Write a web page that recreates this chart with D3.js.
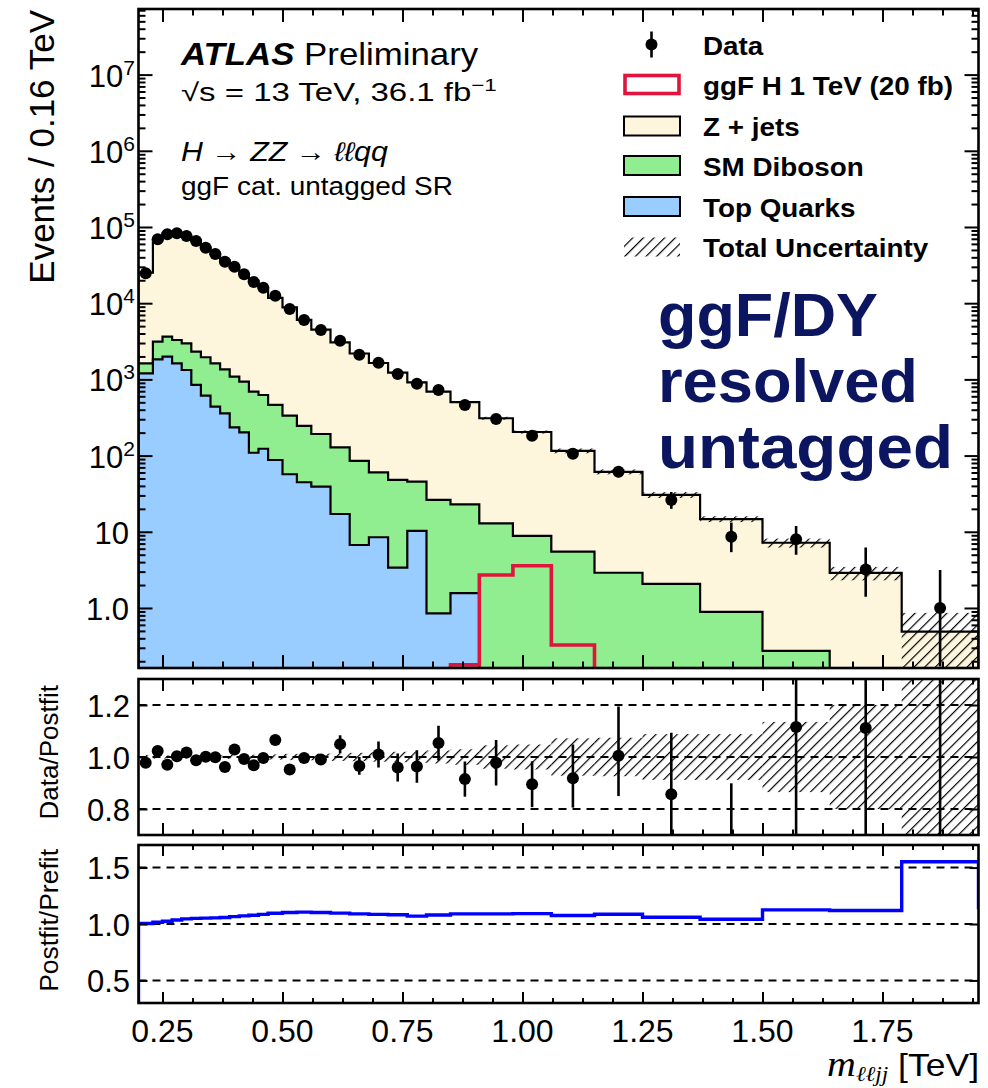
<!DOCTYPE html>
<html>
<head>
<meta charset="utf-8">
<script src="https://cdn.jsdelivr.net/npm/d3@7"></script>
<style>
  body { margin: 0; background: #fff; }
  svg { display: block; }
  text { font-family: "Liberation Sans", Arial, Helvetica, sans-serif; }
</style>
</head>
<body>
<svg id="chart" width="988" height="1088"></svg>
<script>
// ---- m_lljj histogram contents (ggF untagged resolved SR) ----
const binEdges = [0.20, 0.23, 0.25, 0.27, 0.29, 0.31, 0.33, 0.35, 0.37, 0.39, 0.41, 0.43, 0.45, 0.47,
                  0.50, 0.53, 0.56, 0.60, 0.64, 0.68, 0.72, 0.76, 0.80, 0.85, 0.91, 0.98, 1.06,
                  1.15, 1.25, 1.37, 1.50, 1.64, 1.79, 1.95];

const zJets = [23600, 64300, 79000, 79100, 71900, 64000, 51500, 42600, 35100, 28200, 23200, 18900,
               15400, 11300, 8480, 5800, 4300, 2940, 2100, 1580, 1180, 867, 663, 481, 296, 195,
               110, 58.3, 28.4, 13.8, 6.9, 2.78, 0.45];

const smDiboson = [425, 1289, 1648, 1661, 1649, 1467, 1340, 1189, 998, 850, 731, 581, 501, 374,
                   277, 200, 153, 111, 78.3, 51.9, 44.5, 35.1, 25.3, 21.3, 12.9, 8.81, 5.48, 2.90,
                   2.07, 0.887, 0.273, 0.10, 0.04];

const topQuarks = [1202, 1836, 1986, 1627, 1328, 845, 611, 438, 359, 235, 202, 109, 123, 87.5,
                   56.9, 44.7, 39.1, 17.1, 6.71, 8.47, 3.38, 10.3, 0.85, 1.57, 0, 0, 0, 0, 0, 0,
                   0, 0, 0];

const ggfSignal = [0, 0, 0, 0, 0, 0, 0, 0, 0, 0, 0, 0, 0, 0, 0, 0, 0, 0, 0, 0, 0, 0, 0,
                   0.179, 2.71, 3.59, 0.327, 0, 0, 0, 0, 0, 0];

const dataCounts = [24660, 69000, 80200, 82650, 76200, 65500, 53500, 44200, 35050, 30140, 23950,
                    18970, 15960, 12530, 8390, 6020, 4450, 3220, 2110, 1656, 1178, 879, 726, 461,
                    302, 182.5, 106, 61.5, 26.1, 8.6, 8.0, 3.2, 1.0];

const dataErrUp = [197, 345, 401, 413, 381, 328, 268, 265, 245, 241, 216, 190, 176, 150, 126, 108,
                   89, 104, 74, 82, 66, 57, 46, 34, 27, 18, 15, 11.6, 7.2, 4.6, 3.9, 3.0, 2.15];
const dataErrDown = [197, 345, 401, 413, 381, 328, 268, 265, 245, 241, 216, 190, 176, 150, 126, 108,
                     89, 104, 74, 82, 66, 57, 46, 34, 27, 18, 13, 9.5, 6.1, 3.2, 3.0, 1.8, 0.83];

// relative total (stat+syst) uncertainty on the background prediction
const totalUncRel = [0.008, 0.006, 0.006, 0.006, 0.006, 0.006, 0.006, 0.007, 0.007, 0.008, 0.008,
                     0.009, 0.010, 0.010, 0.012, 0.012, 0.013, 0.015, 0.016, 0.018, 0.020, 0.022,
                     0.025, 0.030, 0.045, 0.048, 0.072, 0.074, 0.088, 0.088, 0.135, 0.20, 0.76];

// postfit / prefit background ratio
const postfitOverPrefit = [1.005, 1.015, 1.025, 1.035, 1.045, 1.05, 1.052, 1.054, 1.058, 1.065,
                           1.072, 1.078, 1.085, 1.095, 1.102, 1.105, 1.102, 1.096, 1.09, 1.085,
                           1.082, 1.07, 1.08, 1.09, 1.09, 1.092, 1.075, 1.087, 1.06, 1.042, 1.125,
                           1.119, 1.552];
const postfitOverflow = 1.13;

// axis ticks and labels
const xMajorTicks = [0.25, 0.50, 0.75, 1.00, 1.25, 1.50, 1.75];
const xTickLabels = ["0.25", "0.50", "0.75", "1.00", "1.25", "1.50", "1.75"];
const yMainPowers = [0, 1, 2, 3, 4, 5, 6, 7];
const ratioTicks = [0.8, 1.0, 1.2];
const ratioTickLabels = ["0.8", "1.0", "1.2"];
const postfitTicks = [0.5, 1.0, 1.5];
const postfitTickLabels = ["0.5", "1.0", "1.5"];

const legendLabels = ["Data", "ggF H 1 TeV (20 fb)", "Z + jets", "SM Diboson", "Top Quarks", "Total Uncertainty"];

// ---- layout ----
const X0 = 138.5, X1 = 978.5;
const MAIN = { top: 9, bottom: 668 };
const RAT = { top: 679, bottom: 835 };
const PF = { top: 845, bottom: 1003 };
const MARKER_R = 6;

const COL = {
  zjets: "#fef6dc",
  diboson: "#90ee90",
  top: "#99ccff",
  signal: "#e0143c",
  postfit: "#0000ff",
  navy: "#0b1560"
};

const svg = d3.select("#chart");
const defs = svg.append("defs");

const hatch = defs.append("pattern")
  .attr("id", "hatch")
  .attr("patternUnits", "userSpaceOnUse")
  .attr("width", 7.5).attr("height", 7.5)
  .attr("patternTransform", "rotate(45)");
hatch.append("line")
  .attr("x1", 0).attr("y1", -1).attr("x2", 0).attr("y2", 8.5)
  .attr("stroke", "#000").attr("stroke-width", 2.4);

function addClip(id, p) {
  defs.append("clipPath").attr("id", id).append("rect")
    .attr("x", X0).attr("y", p.top).attr("width", X1 - X0).attr("height", p.bottom - p.top);
}
addClip("clipMain", MAIN);
addClip("clipRat", RAT);
addClip("clipPf", PF);

// ---- scales ----
const x = d3.scaleLinear().domain([0.2, 1.95]).range([X0, X1]);
const yMain = d3.scaleLog().domain([0.163, 7.26e7]).range([MAIN.bottom, MAIN.top]).clamp(true);
const yRat = d3.scaleLinear().domain([0.7, 1.3]).range([RAT.bottom, RAT.top]);
const yPf = d3.scaleLinear().domain([0.3, 1.7]).range([PF.bottom, PF.top]);
const yv = v => yMain(Math.max(v, 1e-3));

const nBins = binEdges.length - 1;
const centers = d3.range(nBins).map(i => (binEdges[i] + binEdges[i + 1]) / 2);

// stacked background
const rows = d3.range(nBins).map(i => ({ top: topQuarks[i], diboson: smDiboson[i], zjets: zJets[i] }));
const stacked = d3.stack().keys(["top", "diboson", "zjets"])(rows);
const cumTop = stacked[0].map(d => d[1]);
const cumDiboson = stacked[1].map(d => d[1]);
const totalBkg = stacked[2].map(d => d[1]);

// step outline through bin edges, dropping to the floor at both ends
function stepPath(vals, yFn, floorY, i0 = 0, i1 = vals.length - 1) {
  let d = `M${x(binEdges[i0])},${floorY}`;
  for (let i = i0; i <= i1; i++) {
    const yy = yFn(vals[i]);
    d += `L${x(binEdges[i])},${yy}L${x(binEdges[i + 1])},${yy}`;
  }
  d += `L${x(binEdges[i1 + 1])},${floorY}`;
  return d;
}

// ---- main panel ----
const gMain = svg.append("g").attr("clip-path", "url(#clipMain)");
[[totalBkg, COL.zjets], [cumDiboson, COL.diboson], [cumTop, COL.top]].forEach(([vals, col]) => {
  gMain.append("path").attr("d", stepPath(vals, yv, MAIN.bottom) + "Z")
    .attr("fill", col).attr("stroke", "none");
  gMain.append("path").attr("d", stepPath(vals, yv, MAIN.bottom))
    .attr("fill", "none").attr("stroke", "#000").attr("stroke-width", 2.2);
});

// uncertainty band
gMain.selectAll("rect.band").data(d3.range(nBins)).join("rect")
  .attr("class", "band")
  .attr("x", i => x(binEdges[i]))
  .attr("width", i => x(binEdges[i + 1]) - x(binEdges[i]))
  .attr("y", i => yv(totalBkg[i] * (1 + totalUncRel[i])))
  .attr("height", i => yv(totalBkg[i] * (1 - totalUncRel[i])) - yv(totalBkg[i] * (1 + totalUncRel[i])))
  .attr("fill", "url(#hatch)");

// signal
{
  const nz = d3.range(nBins).filter(i => ggfSignal[i] > 0);
  gMain.append("path")
    .attr("d", stepPath(ggfSignal, yv, MAIN.bottom + 2, nz[0], nz[nz.length - 1]))
    .attr("fill", "none").attr("stroke", COL.signal).attr("stroke-width", 3.6)
    .attr("stroke-linejoin", "miter");
}

// data
gMain.selectAll("line.err").data(d3.range(nBins)).join("line")
  .attr("class", "err")
  .attr("x1", i => x(centers[i])).attr("x2", i => x(centers[i]))
  .attr("y1", i => yv(dataCounts[i] + dataErrUp[i]))
  .attr("y2", i => yv(dataCounts[i] - dataErrDown[i]))
  .attr("stroke", "#000").attr("stroke-width", 2.6);
gMain.selectAll("circle.pt").data(d3.range(nBins)).join("circle")
  .attr("class", "pt")
  .attr("cx", i => x(centers[i])).attr("cy", i => yv(dataCounts[i]))
  .attr("r", MARKER_R).attr("fill", "#000");

// ---- ratio panel: data / postfit ----
const gRat = svg.append("g").attr("clip-path", "url(#clipRat)");
ratioTicks.forEach(v => {
  gRat.append("line").attr("x1", X0).attr("x2", X1).attr("y1", yRat(v)).attr("y2", yRat(v))
    .attr("stroke", "#000").attr("stroke-width", 2).attr("stroke-dasharray", "8,6");
});
gRat.selectAll("rect.band").data(d3.range(nBins)).join("rect")
  .attr("class", "band")
  .attr("x", i => x(binEdges[i]))
  .attr("width", i => x(binEdges[i + 1]) - x(binEdges[i]))
  .attr("y", i => yRat(1 + totalUncRel[i]))
  .attr("height", i => yRat(1 - totalUncRel[i]) - yRat(1 + totalUncRel[i]))
  .attr("fill", "url(#hatch)");
gRat.selectAll("line.err").data(d3.range(nBins)).join("line")
  .attr("class", "err")
  .attr("x1", i => x(centers[i])).attr("x2", i => x(centers[i]))
  .attr("y1", i => yRat((dataCounts[i] + dataErrUp[i]) / totalBkg[i]))
  .attr("y2", i => yRat((dataCounts[i] - dataErrDown[i]) / totalBkg[i]))
  .attr("stroke", "#000").attr("stroke-width", 2.6);
gRat.selectAll("circle.pt").data(d3.range(nBins)).join("circle")
  .attr("class", "pt")
  .attr("cx", i => x(centers[i])).attr("cy", i => yRat(dataCounts[i] / totalBkg[i]))
  .attr("r", MARKER_R).attr("fill", "#000");

// ---- postfit / prefit panel ----
const gPf = svg.append("g").attr("clip-path", "url(#clipPf)");
postfitTicks.forEach(v => {
  gPf.append("line").attr("x1", X0).attr("x2", X1).attr("y1", yPf(v)).attr("y2", yPf(v))
    .attr("stroke", "#000").attr("stroke-width", 2).attr("stroke-dasharray", "8,6");
});
{
  let d = stepPath(postfitOverPrefit, yPf, PF.bottom);
  d = d.replace(/L[^L]*$/, `L${x(binEdges[nBins])},${yPf(postfitOverflow)}`);
  gPf.append("path").attr("d", d).attr("fill", "none")
    .attr("stroke", COL.postfit).attr("stroke-width", 3.4);
}

// ---- axes (inward ticks on all four sides) ----
const xMinorTicks = d3.range(0.1875, 1.95, 0.0625)
  .filter(v => v > 0.2 && Math.abs((v - 0.25) / 0.25 - Math.round((v - 0.25) / 0.25)) > 1e-6);

function strip(g) {
  g.select(".domain").remove();
  g.selectAll("line").attr("stroke", "#000").attr("stroke-width", 2);
  return g;
}
function xTicksFor(p, majorLen, minorLen) {
  [[d3.axisBottom, p.bottom], [d3.axisTop, p.top]].forEach(([ax, yy]) => {
    svg.append("g").attr("transform", `translate(0,${yy})`)
      .call(ax(x).tickValues(xMajorTicks).tickSize(-majorLen).tickFormat("")).call(strip);
    svg.append("g").attr("transform", `translate(0,${yy})`)
      .call(ax(x).tickValues(xMinorTicks).tickSize(-minorLen).tickFormat("")).call(strip);
  });
}
xTicksFor(MAIN, 13, 6.5);
xTicksFor(RAT, 12, 5.5);
xTicksFor(PF, 11, 5);

// log y ticks for the main panel
const yMajorVals = yMainPowers.map(p => Math.pow(10, p));
const yMinorVals = [];
for (let p = -1; p <= 7; p++) for (let m = 2; m <= 9; m++) {
  const v = m * Math.pow(10, p);
  if (v >= 0.163 && v <= 7.26e7) yMinorVals.push(v);
}
[[d3.axisLeft, X0], [d3.axisRight, X1]].forEach(([ax, xx]) => {
  svg.append("g").attr("transform", `translate(${xx},0)`)
    .call(ax(yMain).tickValues(yMajorVals).tickSize(-14).tickFormat("")).call(strip);
  svg.append("g").attr("transform", `translate(${xx},0)`)
    .call(ax(yMain).tickValues(yMinorVals).tickSize(-7).tickFormat("")).call(strip);
  svg.append("g").attr("transform", `translate(${xx},0)`)
    .call(ax(yRat).tickValues(ratioTicks).tickSize(-9).tickFormat("")).call(strip);
  svg.append("g").attr("transform", `translate(${xx},0)`)
    .call(ax(yPf).tickValues(postfitTicks).tickSize(-9).tickFormat("")).call(strip);
});

// frames
[MAIN, RAT, PF].forEach(p => {
  svg.append("rect").attr("x", X0).attr("y", p.top).attr("width", X1 - X0).attr("height", p.bottom - p.top)
    .attr("fill", "none").attr("stroke", "#000").attr("stroke-width", 2.6);
});

// tick labels
const FS = 31;
yMainPowers.forEach(p => {
  const t = svg.append("text").attr("text-anchor", "end").attr("font-size", FS)
    .attr("y", yMain(Math.pow(10, p)) + 12);
  if (p === 0) t.attr("x", 129).text("1.0");
  else if (p === 1) t.attr("x", 129).text("10");
  else {
    t.attr("x", 135);
    t.append("tspan").text("10");
    t.append("tspan").attr("font-size", 21).attr("dy", -12).text(String(p));
  }
});
ratioTicks.forEach((v, i) => {
  svg.append("text").attr("text-anchor", "end").attr("font-size", FS)
    .attr("x", 130).attr("y", yRat(v) + 11.5).text(ratioTickLabels[i]);
});
postfitTicks.forEach((v, i) => {
  svg.append("text").attr("text-anchor", "end").attr("font-size", FS)
    .attr("x", 130).attr("y", yPf(v) + 11.5).text(postfitTickLabels[i]);
});
xMajorTicks.forEach((v, i) => {
  svg.append("text").attr("text-anchor", "middle").attr("font-size", FS + 1)
    .attr("x", x(v)).attr("y", 1042).text(xTickLabels[i]);
});

// axis titles
svg.append("text").attr("transform", "translate(54,10) rotate(-90)")
  .attr("text-anchor", "end").attr("font-size", 35).text("Events / 0.16 TeV");
svg.append("text").attr("transform", "translate(58,685) rotate(-90)")
  .attr("text-anchor", "end").attr("font-size", 26).text("Data/Postfit");
svg.append("text").attr("transform", "translate(58,849) rotate(-90)")
  .attr("text-anchor", "end").attr("font-size", 26.5).text("Postfit/Prefit");

// text placed in a group that can be stretched horizontally to a given width
function placeText(xx, yy, target, build) {
  const g = svg.append("g").attr("transform", `translate(${xx},${yy})`);
  const t = g.append("text");
  build(t);
  if (target) {
    const w = t.node().getBBox().width;
    g.attr("transform", `translate(${xx},${yy}) scale(${target / w},1)`);
  }
  return t;
}

placeText(979, 1076, 152, t => {
  t.attr("text-anchor", "end").attr("font-size", 32);
  t.append("tspan").attr("font-family", "Liberation Serif, DejaVu Serif, serif").attr("font-style", "italic")
    .attr("font-size", 36).text("m");
  t.append("tspan").attr("font-family", "Liberation Serif, DejaVu Serif, serif").attr("font-style", "italic")
    .attr("font-size", 21).attr("dy", 5).text("ℓℓjj");
  t.append("tspan").attr("dy", -5).text(" [TeV]");
});

// ATLAS label block
placeText(181, 65, 299, t => {
  t.attr("font-size", 31);
  t.append("tspan").attr("font-weight", "bold").attr("font-style", "italic").text("ATLAS");
  t.append("tspan").text(" Preliminary");
});
placeText(181, 101, 316, t => {
  t.attr("font-size", 25);
  t.append("tspan").text("√s = 13 TeV,  36.1 fb");
  t.append("tspan").attr("font-size", 17).attr("dy", -10).text("−1");
});
placeText(181, 161, 207, t => {
  t.attr("font-size", 27).attr("font-family", "Liberation Serif, DejaVu Serif, serif");
  t.append("tspan").attr("font-style", "italic").text("H");
  t.append("tspan").text(" → ");
  t.append("tspan").attr("font-style", "italic").text("ZZ");
  t.append("tspan").text(" → ");
  t.append("tspan").attr("font-style", "italic").text("ℓℓqq");
});
placeText(181, 195, 272, t => {
  t.attr("font-size", 25).text("ggF cat. untagged SR");
});

// category label
[["ggF/DY", 336, 220], ["resolved", 402, 260], ["untagged", 468, 295]].forEach(([s, yy, w]) => {
  placeText(658, yy, w, t => {
    t.attr("font-family", "'Open Sans', sans-serif").attr("font-weight", 700)
      .attr("font-size", 62).attr("fill", COL.navy).text(s);
  });
});

// ---- legend ----
const legRowY = [44.5, 84.5, 126, 165.5, 206.5, 247];
const legBoxX = 624, legBoxW = 56, legBoxH = 19;
const legStretch = (() => {
  const t = svg.append("text").attr("font-size", 26).attr("font-weight", "bold").text(legendLabels[1]);
  const w = t.node().getBBox().width;
  t.remove();
  return 250 / w;
})();
legendLabels.forEach((lab, i) => {
  const cy = legRowY[i];
  if (i === 0) {
    svg.append("line").attr("x1", 651.5).attr("x2", 651.5).attr("y1", cy - 13).attr("y2", cy + 13)
      .attr("stroke", "#000").attr("stroke-width", 2.6);
    svg.append("circle").attr("cx", 651.5).attr("cy", cy).attr("r", MARKER_R).attr("fill", "#000");
  } else if (i === 1) {
    svg.append("rect").attr("x", legBoxX + 1).attr("y", cy - 9).attr("width", legBoxW - 2).attr("height", 18)
      .attr("fill", "#fff").attr("stroke", COL.signal).attr("stroke-width", 3.6);
  } else if (i === 5) {
    svg.append("rect").attr("x", legBoxX).attr("y", cy - legBoxH / 2).attr("width", legBoxW).attr("height", legBoxH)
      .attr("fill", "url(#hatch)");
  } else {
    const col = [null, null, COL.zjets, COL.diboson, COL.top][i];
    svg.append("rect").attr("x", legBoxX).attr("y", cy - legBoxH / 2).attr("width", legBoxW).attr("height", legBoxH)
      .attr("fill", col).attr("stroke", "#000").attr("stroke-width", 2);
  }
  const g = svg.append("g").attr("transform", `translate(703,${cy + 10}) scale(${legStretch},1)`);
  g.append("text").attr("font-size", 26).attr("font-weight", "bold").text(lab);
});
</script>
</body>
</html>
